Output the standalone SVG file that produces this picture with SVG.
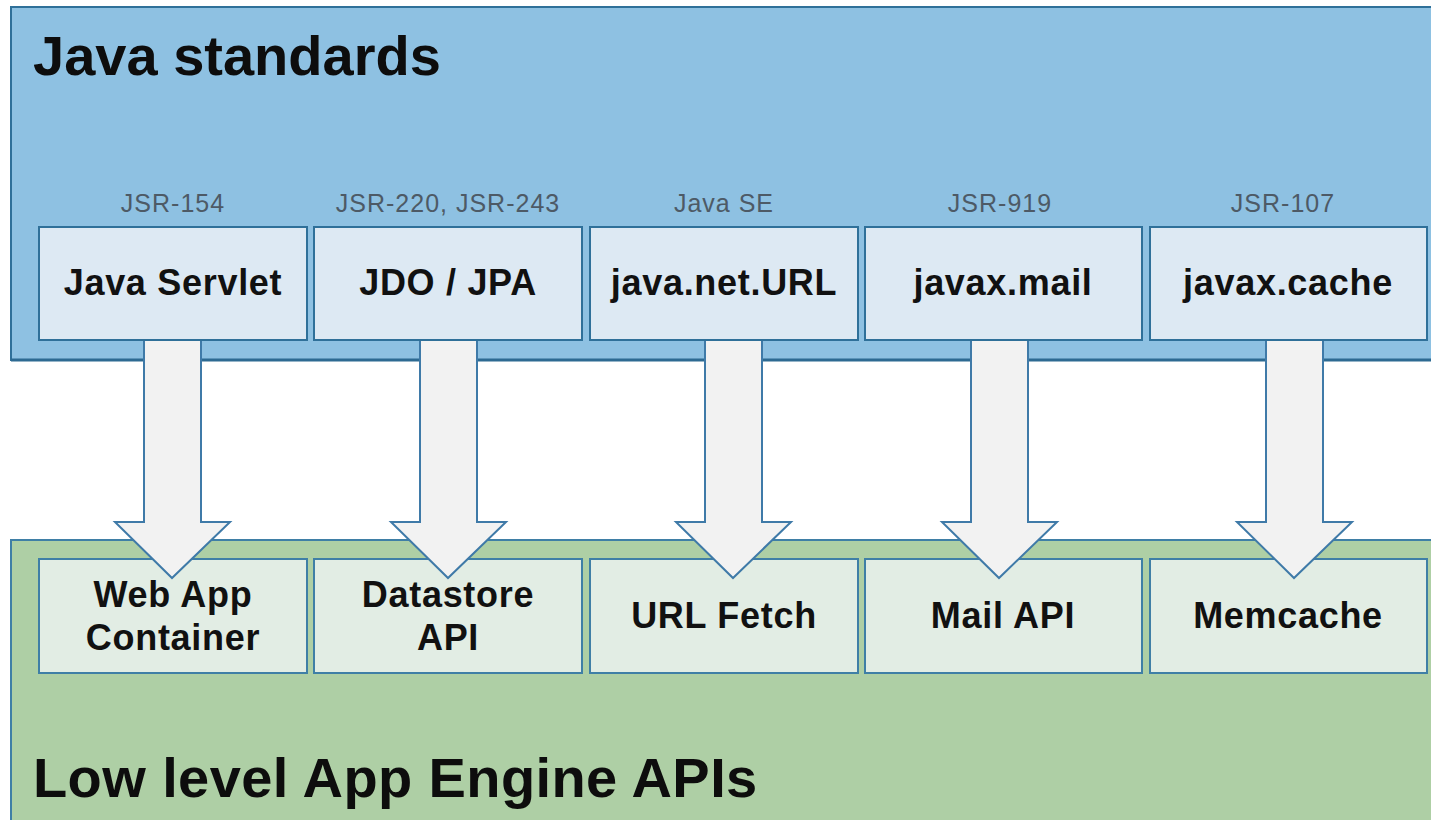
<svg xmlns="http://www.w3.org/2000/svg" width="1431" height="820" viewBox="0 0 1431 820">
<style>
.panelB{fill:#8ec1e2;stroke:#2f7099;stroke-width:2}
.panelG{fill:#aecfa5;stroke:#3f7fa6;stroke-width:2}
.boxB{fill:#dde9f3;stroke:#2f7099;stroke-width:2}
.boxG{fill:#e2ede4;stroke:#3f7fa6;stroke-width:2}
.arrow{fill:#f2f2f2;stroke:#3f7aa8;stroke-width:2;stroke-linejoin:miter}
.title{font-family:"Liberation Sans",Arial,sans-serif;font-weight:bold;font-size:56px;fill:#0d0d0d}
.lbl{font-family:"Liberation Sans",Arial,sans-serif;font-weight:bold;font-size:36px;fill:#111;text-anchor:middle;letter-spacing:0.7px}
.std{font-family:"Liberation Sans",Arial,sans-serif;font-size:25px;fill:#4d5a66;text-anchor:middle;letter-spacing:1px}
</style>
<rect width="1431" height="820" fill="#ffffff"/>
<g id="java-standards">
<rect class="panelB" x="11" y="7" width="1440" height="353"/>
<line x1="11" y1="360" x2="1431" y2="360" stroke="#2d6a92" stroke-width="3"/>
<text class="title" x="33" y="75">Java standards</text>
</g>
<g id="low-level">
<rect class="panelG" x="11" y="540" width="1440" height="300"/>
<text class="title" x="33" y="797" letter-spacing="0.4">Low level App Engine APIs</text>
</g>
<g id="servlet"><text class="std" x="173" y="212">JSR-154</text><rect class="boxB" x="39" y="227" width="268" height="113"/><text class="lbl" x="173" y="295">Java Servlet</text></g>
<g id="jdo"><text class="std" x="448" y="212">JSR-220, JSR-243</text><rect class="boxB" x="314" y="227" width="268" height="113"/><text class="lbl" x="448" y="295">JDO / JPA</text></g>
<g id="url"><text class="std" x="724" y="212">Java SE</text><rect class="boxB" x="590" y="227" width="268" height="113"/><text class="lbl" x="724" y="295">java.net.URL</text></g>
<g id="mail"><text class="std" x="1000" y="212">JSR-919</text><rect class="boxB" x="865" y="227" width="277" height="113"/><text class="lbl" x="1003" y="295">javax.mail</text></g>
<g id="cache"><text class="std" x="1283" y="212">JSR-107</text><rect class="boxB" x="1150" y="227" width="277" height="113"/><text class="lbl" x="1288" y="295">javax.cache</text></g>
<g id="webapp"><rect class="boxG" x="39" y="559" width="268" height="114"/><text class="lbl" x="173" y="607">Web App</text><text class="lbl" x="173" y="650">Container</text></g>
<g id="datastore"><rect class="boxG" x="314" y="559" width="268" height="114"/><text class="lbl" x="448" y="607">Datastore</text><text class="lbl" x="448" y="650">API</text></g>
<g id="urlfetch"><rect class="boxG" x="590" y="559" width="268" height="114"/><text class="lbl" x="724" y="628">URL Fetch</text></g>
<g id="mailapi"><rect class="boxG" x="865" y="559" width="277" height="114"/><text class="lbl" x="1003" y="628">Mail API</text></g>
<g id="memcache"><rect class="boxG" x="1150" y="559" width="277" height="114"/><text class="lbl" x="1288" y="628">Memcache</text></g>
<g id="connectors">
<path class="arrow" d="M144 341 V522 H115 L172 578 L230 522 H201 V341"/>
<path class="arrow" d="M420 341 V522 H391 L448 578 L506 522 H477 V341"/>
<path class="arrow" d="M705 341 V522 H676 L733 578 L791 522 H762 V341"/>
<path class="arrow" d="M971 341 V522 H942 L999 578 L1057 522 H1028 V341"/>
<path class="arrow" d="M1266 341 V522 H1237 L1294 578 L1352 522 H1323 V341"/>
</g>
</svg>
